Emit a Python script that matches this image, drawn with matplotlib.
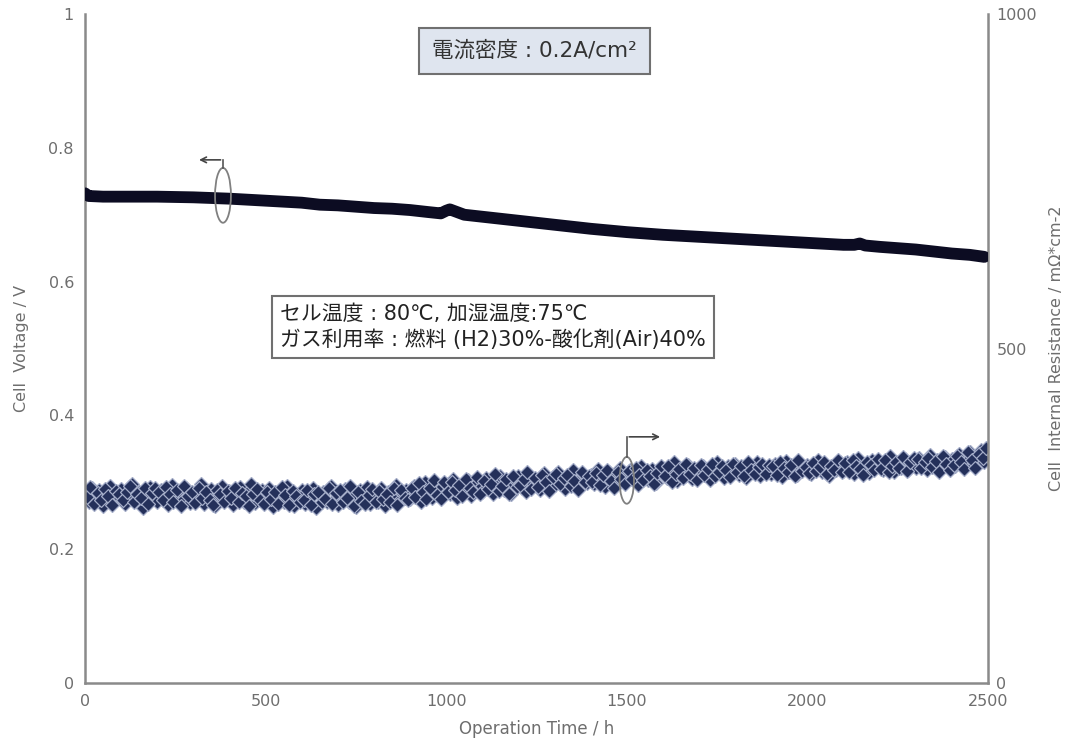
import matplotlib.pyplot as plt
import numpy as np
from matplotlib.patches import Ellipse

# voltage (h, V)
v_time = [0, 10, 50, 100, 200, 300, 400, 500, 600, 650, 700, 750, 800, 850, 900, 950, 985,
          1000, 1010, 1030, 1050, 1100, 1150, 1200, 1300, 1400, 1500, 1600, 1700, 1800, 1900,
          2000, 2100, 2130, 2145, 2160, 2200, 2300, 2400, 2450, 2490]
voltage = [0.732, 0.728, 0.727, 0.727, 0.727, 0.726, 0.724, 0.721, 0.718, 0.715, 0.714, 0.712,
           0.710, 0.709, 0.707, 0.704, 0.702, 0.706, 0.708, 0.704, 0.700, 0.697, 0.694, 0.691,
           0.685, 0.679, 0.674, 0.670, 0.667, 0.664, 0.661, 0.658, 0.655, 0.655, 0.657, 0.654,
           0.652, 0.648, 0.642, 0.640, 0.637]

# internal resistance, two interleaved reading sets
r_time = list(range(0, 2501, 10))
resistance = [
    285, 270, 292, 276, 288, 265, 283, 295, 272, 280,
    290, 268, 279, 297, 274, 286, 262, 281, 293, 277,
    271, 289, 280, 266, 296, 278, 287, 273, 291, 269,
    284, 275, 298, 268, 282, 290, 264, 279, 294, 276,
    287, 266, 281, 293, 271, 285, 297, 269, 278, 288,
    272, 291, 263, 280, 287, 270, 294, 276, 265, 283,
    289, 268, 278, 292, 262, 281, 286, 271, 295, 274,
    266, 284, 290, 270, 279, 263, 288, 276, 293, 268,
    281, 270, 292, 265, 285, 278, 296, 272, 283, 289,
    275, 295, 280, 270, 301, 284, 276, 297, 288, 279,
    298, 282, 305, 276, 292, 287, 303, 280, 296, 290,
    285, 306, 291, 282, 300, 310, 288, 297, 283, 304,
    309, 292, 286, 311, 298, 303, 289, 314, 295, 301,
    296, 315, 302, 290, 308, 318, 294, 305, 312, 299,
    311, 298, 320, 304, 293, 316, 309, 300, 322, 306,
    302, 318, 308, 296, 325, 312, 304, 320, 299, 315,
    322, 306, 315, 330, 302, 318, 310, 326, 305, 316,
    309, 325, 314, 303, 321, 330, 312, 306, 324, 317,
    328, 311, 320, 306, 324, 315, 331, 309, 322, 318,
    313, 327, 318, 308, 332, 316, 324, 311, 329, 320,
    326, 312, 321, 334, 315, 328, 310, 324, 318, 331,
    317, 330, 322, 313, 336, 320, 327, 314, 333, 324,
    331, 318, 327, 340, 316, 329, 322, 335, 319, 326,
    322, 336, 328, 318, 341, 325, 333, 320, 338, 329,
    335, 324, 342, 328, 331, 346, 326, 338, 348, 330,
    340,
]
r_time2 = list(range(5, 2500, 10))
resistance2 = [
    278, 293, 268, 284, 274, 290, 279, 266, 287, 282,
    273, 286, 295, 270, 283, 277, 292, 268, 284, 291,
    286, 274, 293, 283, 270, 288, 265, 294, 279, 285,
    269, 291, 277, 286, 273, 266, 289, 282, 270, 287,
    276, 292, 270, 284, 279, 264, 283, 290, 273, 268,
    286, 275, 285, 267, 293, 281, 266, 287, 279, 271,
    273, 288, 266, 283, 285, 270, 275, 292, 268, 284,
    289, 271, 277, 294, 265, 285, 272, 268, 281, 290,
    270, 287, 275, 283, 271, 292, 266, 289, 277, 273,
    292, 278, 299, 286, 275, 291, 303, 281, 275, 300,
    285, 301, 289, 296, 279, 305, 291, 286, 308, 282,
    302, 290, 298, 312, 287, 294, 305, 283, 309, 293,
    296, 305, 316, 290, 306, 293, 311, 301, 287, 308,
    312, 297, 306, 311, 295, 302, 289, 316, 301, 310,
    300, 314, 296, 311, 318, 302, 292, 315, 305, 298,
    317, 305, 321, 311, 303, 319, 310, 298, 314, 324,
    309, 324, 300, 312, 320, 307, 328, 313, 321, 304,
    326, 311, 320, 328, 309, 316, 324, 319, 308, 327,
    315, 325, 309, 330, 318, 312, 323, 327, 313, 326,
    324, 311, 330, 321, 315, 326, 309, 333, 317, 323,
    314, 329, 317, 323, 331, 313, 325, 319, 334, 316,
    329, 315, 334, 325, 320, 311, 331, 326, 318, 335,
    320, 334, 316, 325, 331, 321, 338, 317, 330, 336,
    335, 321, 330, 337, 323, 332, 316, 339, 327, 318,
    326, 340, 331, 320, 345, 334, 322, 343, 337, 352,
]

v_ticks = [0, 0.2, 0.4, 0.6, 0.8, 1]
v_ticklabels = ['0', '0.2', '0.4', '0.6', '0.8', '1']
r_ticks = [0, 500, 1000]
x_ticks = [0, 500, 1000, 1500, 2000, 2500]

gray = '#8a8a8a'
tcol = '#6e6e6e'
jp = ['DejaVu Sans', 'Noto Sans CJK JP']

fig = plt.figure(figsize=(10.72, 7.5), dpi=100)
ax = fig.add_axes([0.0793, 0.0893, 0.8423, 0.892])
ax2 = ax.twinx()

mk = dict(linestyle='none', marker='D', markersize=7,
          markerfacecolor='#24305a', markeredgecolor='#a4adc8', markeredgewidth=0.9, zorder=2)
ax2.plot(r_time, resistance, **mk)
ax2.plot(r_time2, resistance2, **mk)
ax.plot(v_time, voltage, color='#0c0c22', linewidth=8.5, solid_capstyle='round', zorder=3)
ax.set_zorder(ax2.get_zorder() + 1)
ax.patch.set_visible(False)

ax.set_xlim(0, 2500)
ax.set_ylim(0, 1)
ax2.set_ylim(0, 1000)
ax.set_xticks(x_ticks)
ax.set_yticks(v_ticks)
ax.set_yticklabels(v_ticklabels)
ax2.set_yticks(r_ticks)

for a in (ax, ax2):
    for s in a.spines.values():
        s.set_visible(False)
    a.tick_params(length=0, labelsize=11.5, labelcolor=tcol)
ax.spines['left'].set_visible(True)
ax.spines['bottom'].set_visible(True)
ax2.spines['right'].set_visible(True)
for s in (ax.spines['left'], ax.spines['bottom'], ax2.spines['right']):
    s.set_color(gray)
    s.set_linewidth(1.8)
ax.tick_params(axis='y', pad=8)
ax.tick_params(axis='x', pad=8)
ax2.tick_params(axis='y', pad=6)

ax.set_xlabel('Operation Time / h', fontsize=12, color=tcol, labelpad=8)
ax.set_ylabel('Cell  Voltage / V', fontsize=11.5, color=tcol, labelpad=14)
ax2.set_ylabel('Cell  Internal Resistance / mΩ*cm-2', fontsize=11.5, color=tcol, labelpad=9)

# annotation boxes
ax.text(0.498, 0.945, '電流密度 : 0.2A/cm²', transform=ax.transAxes, fontsize=15.5,
        family=jp, color='#333333', ha='center', va='center',
        bbox=dict(boxstyle='square,pad=0.6', facecolor='#dfe5ef', edgecolor='#707070', linewidth=1.5))
ax.text(0.216, 0.532, 'セル温度 : 80℃, 加湿温度:75℃\nガス利用率 : 燃料 (H2)30%-酸化剤(Air)40%',
        transform=ax.transAxes, fontsize=15, family=jp, color='#222222', ha='left', va='center',
        linespacing=1.3,
        bbox=dict(boxstyle='square,pad=0.4', facecolor='white', edgecolor='#707070', linewidth=1.5))

# series markers (ellipse + arrow)
ax.add_patch(Ellipse((382, 0.729), 44, 0.082, fill=False, edgecolor='#808080', linewidth=1.3, zorder=5))
ax.plot([382, 382], [0.770, 0.782], color='#555555', linewidth=1.2, zorder=5)
ax.annotate('', xy=(308, 0.782), xytext=(383, 0.782),
            arrowprops=dict(arrowstyle='->', color='#444444', linewidth=1.2), zorder=5)
ax.add_patch(Ellipse((1500, 0.303), 40, 0.07, fill=False, edgecolor='#808080', linewidth=1.3, zorder=5))
ax.plot([1500, 1500], [0.338, 0.368], color='#555555', linewidth=1.2, zorder=5)
ax.annotate('', xy=(1600, 0.368), xytext=(1499, 0.368),
            arrowprops=dict(arrowstyle='->', color='#444444', linewidth=1.2), zorder=5)

fig.savefig('out.png', dpi=100)
